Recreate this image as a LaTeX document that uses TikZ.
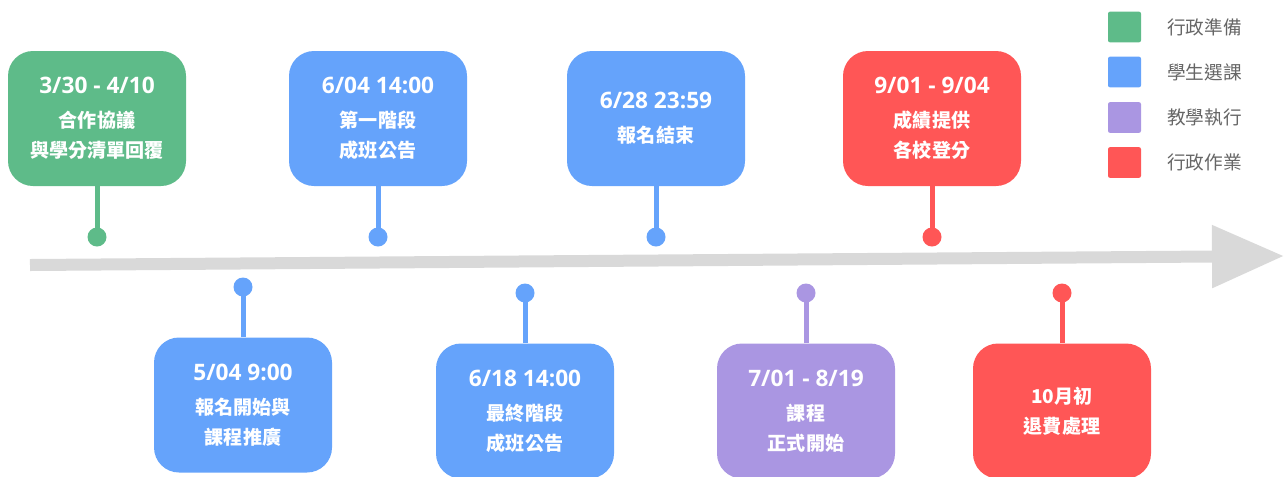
\documentclass[tikz,border=0pt]{standalone}
\usepackage{fontspec}
\usepackage{xcolor}
\usetikzlibrary{arrows.meta}
\newfontfamily\cjkfont{Noto Sans CJK TC}
\newfontfamily\numfont{Open Sans}
\definecolor{admgreen}{RGB}{94,187,137}
\definecolor{selblue}{RGB}{101,163,251}
\definecolor{teachpurple}{RGB}{170,150,226}
\definecolor{opred}{RGB}{255,86,86}
\definecolor{linegray}{RGB}{217,217,217}
\definecolor{leggray}{RGB}{102,102,102}
\newcommand{\evdate}[1]{{\numfont\bfseries\fontsize{17}{20}\selectfont #1}\\[3pt]}

\begin{document}
\begin{tikzpicture}[x=0.75pt,y=0.75pt,yscale=-1,xscale=1,
  evbox/.style={fill=#1, rounded corners=18.75pt, minimum width=133.5pt, minimum height=101.25pt, inner sep=0pt, text=white, align=center, font=\cjkfont\bfseries\fontsize{14.3}{22.5}\selectfont},
  stem/.style={draw=#1, line width=3.75pt},
  pindot/.style={circle, fill=#1, inner sep=0pt, minimum size=14.25pt},
  legbox/.style={fill=#1, rounded corners=1.5pt, minimum width=24.75pt, minimum height=23pt, inner sep=0pt},
  legtext/.style={anchor=west, inner sep=0pt, text=leggray, font=\cjkfont\fontsize{14}{16}\selectfont}]
\useasboundingbox (0,0) rectangle (1284,476);

%Timeline
\coordinate (tl0) at (30,265);
\coordinate (tl1) at (1284,256);
\draw [draw=linegray, line width=9pt, -{Triangle[length=54pt,width=45pt]}] (tl0) -- (tl1);

%Rounded Rect (top row)
\node [evbox=admgreen] (b1) at (97,118.5) {\evdate{3/30 - 4/10}合作協議\\與學分清單回覆};
\node [evbox=selblue] (b2) at (378,118.5) {\evdate{6/04 14:00}第一階段\\成班公告};
\node [evbox=selblue] (b3) at (656,118.5) {\evdate{6/28 23:59}報名結束};
\node [evbox=opred] (b4) at (932,118.5) {\evdate{9/01 - 9/04}成績提供\\各校登分};
%Rounded Rect (bottom row)
\node [evbox=selblue] (b5) at (243,405) {\evdate{5/04 9:00}報名開始與\\課程推廣};
\node [evbox=selblue] (b6) at (525,411) {\evdate{6/18 14:00}最終階段\\成班公告};
\node [evbox=teachpurple] (b7) at (806,411) {\evdate{7/01 - 8/19}課程\\正式開始};
\node [evbox=opred] (b8) at (1062,411) {10月初\\退費處理};

%Circles
\node [pindot=admgreen] (d1) at (97,237) {};
\node [pindot=selblue] (d2) at (378,237) {};
\node [pindot=selblue] (d3) at (656,237) {};
\node [pindot=opred] (d4) at (932,237) {};
\node [pindot=selblue] (d5) at (243,287) {};
\node [pindot=selblue] (d6) at (525,293) {};
\node [pindot=teachpurple] (d7) at (806,293) {};
\node [pindot=opred] (d8) at (1062,293) {};

%Straight Lines
\draw [stem=admgreen] (b1.south) -- (d1.center);
\draw [stem=selblue] (b2.south) -- (d2.center);
\draw [stem=selblue] (b3.south) -- (d3.center);
\draw [stem=opred] (b4.south) -- (d4.center);
\draw [stem=selblue] (b5.north) -- (d5.center);
\draw [stem=selblue] (b6.north) -- (d6.center);
\draw [stem=teachpurple] (b7.north) -- (d7.center);
\draw [stem=opred] (b8.north) -- (d8.center);

%Legend
\node [legbox=admgreen] (k1) at (1124.5,27) {};
\node [legbox=selblue] (k2) at (1124.5,72) {};
\node [legbox=teachpurple] (k3) at (1124.5,117.5) {};
\node [legbox=opred] (k4) at (1124.5,162.5) {};
% Text Node
\node [legtext] (t1) at (1167,27) {行政準備};
\node [legtext] (t2) at (1167,72) {學生選課};
\node [legtext] (t3) at (1167,117.5) {教學執行};
\node [legtext] (t4) at (1167,162.5) {行政作業};

\end{tikzpicture}
\end{document}
